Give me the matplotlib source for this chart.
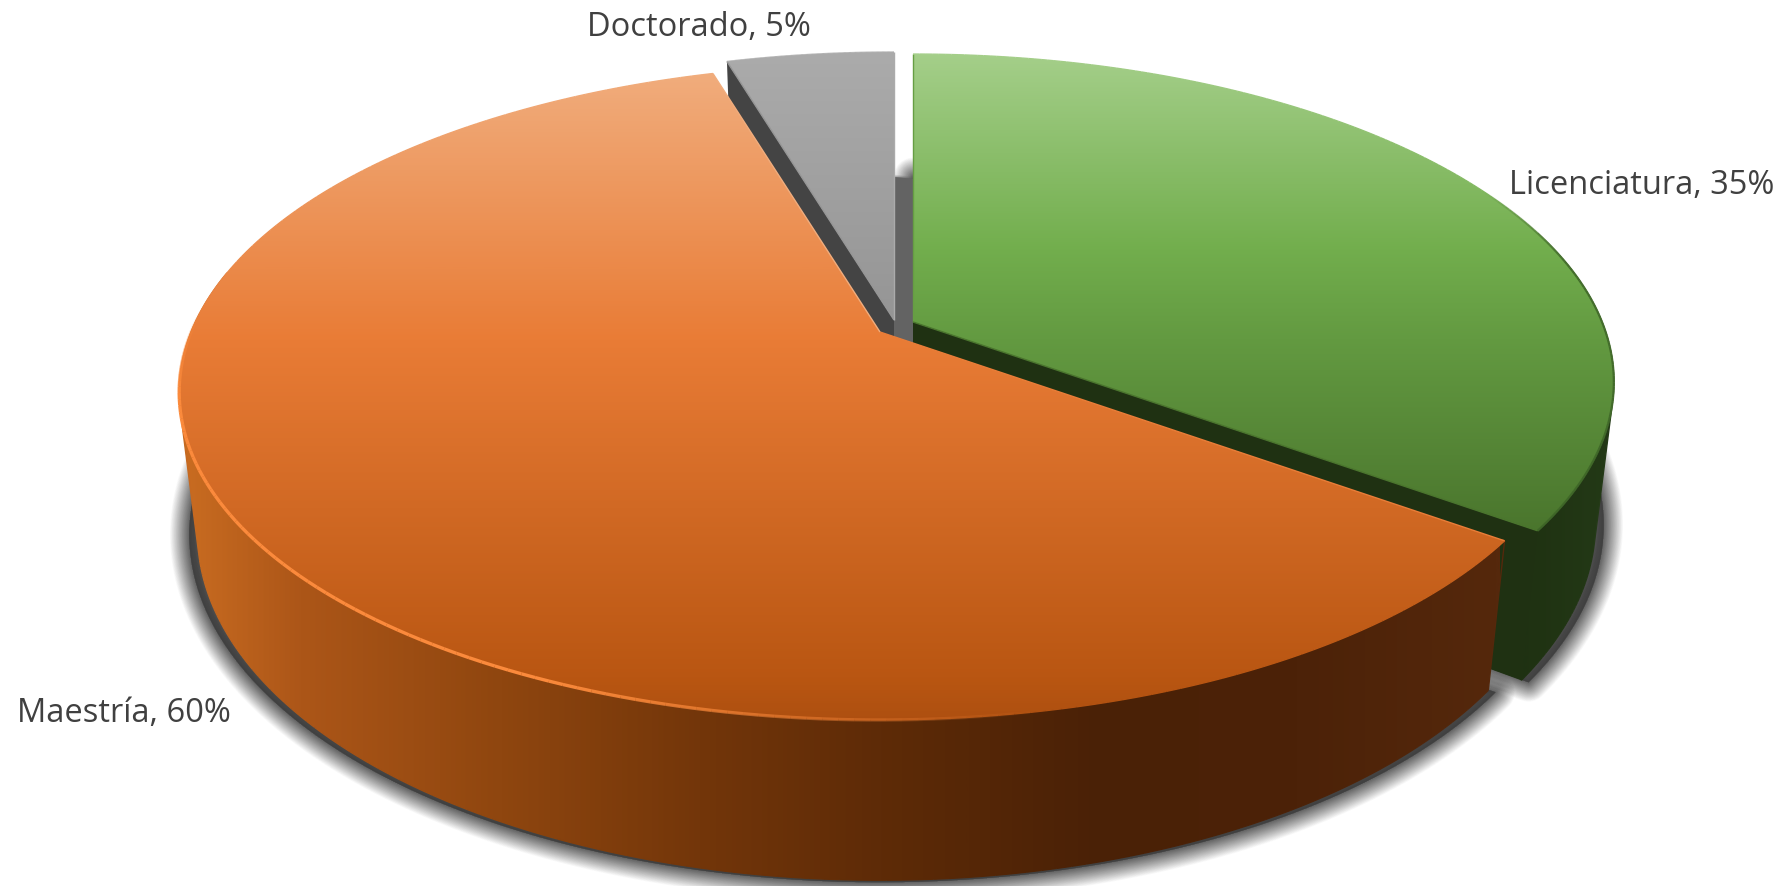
import numpy as np
import matplotlib
matplotlib.use("Agg")
import matplotlib.pyplot as plt
from matplotlib.patches import Polygon
from matplotlib.collections import LineCollection
from matplotlib.colors import LinearSegmentedColormap, to_rgb

# values, clockwise from 12 o'clock
categories = ["Licenciatura", "Maestría", "Doctorado"]
shares = [35.0, 60.4, 4.6]
shown_pct = ["35%", "60%", "5%"]

W, H = 1786, 887
K = 0.183              # perspective of the pie plane
A_TOP, B_TOP = 689, 317
A_BOT, B_BOT = 671, 336
DEPTH = 137
apex = [(913, 323), (880, 333), (894, 321)]

top_stops = [
    [(40, "#a8d18e"), (250, "#72ae4d"), (340, "#639a41"), (535, "#4a752d")],
    [(60, "#f1af80"), (340, "#e97c36"), (680, "#b95612"), (725, "#ad4f10")],
    [(40, "#acacac"), (325, "#959595")],
]
wall_stops = [
    [(915, "#1f3112"), (1530, "#1f3212"), (1620, "#243a17")],
    [(170, "#cc6e22"), (300, "#ac5618"), (500, "#8f460f"), (700, "#73360a"),
     (880, "#5e2b07"), (1100, "#4a2106"), (1300, "#4c2208"), (1500, "#55280c")],
]
label_pos = [(1509, 186), (17, 714), (587, 27)]


def project(theta, cx, cy, a, b):
    x_p, y_p = np.sin(theta), np.cos(theta)
    d = 1 + K * y_p
    return cx + a * x_p / d, cy - b * y_p / d


def make_cmap(stops):
    lo, hi = stops[0][0], stops[-1][0]
    pts = [((p - lo) / (hi - lo), c) for p, c in stops]
    return LinearSegmentedColormap.from_list("g", pts), lo, hi


def hull(points):
    # convex outline of the two rims, gives the straight side of the wall
    pts = sorted(set(map(tuple, points)))

    def half(seq):
        out = []
        for p in seq:
            while len(out) > 1 and ((out[-1][0] - out[-2][0]) * (p[1] - out[-2][1])
                                    - (out[-1][1] - out[-2][1]) * (p[0] - out[-2][0])) <= 0:
                out.pop()
            out.append(p)
        return out[:-1]

    return np.array(half(pts) + half(pts[::-1]))


def gradient_fill(ax, outline, stops, vertical, zorder):
    cmap, lo, hi = make_cmap(stops)
    ramp = np.linspace(0, 1, 512)
    if vertical:
        im = ax.imshow(ramp[:, None], cmap=cmap, vmin=0, vmax=1, aspect="auto",
                       extent=[0, W, hi, lo], zorder=zorder)
    else:
        im = ax.imshow(ramp[None, :], cmap=cmap, vmin=0, vmax=1, aspect="auto",
                       extent=[lo, hi, H, 0], zorder=zorder)
    clip = Polygon(outline, closed=True, transform=ax.transData)
    im.set_clip_path(clip)
    # antialiased edge in the same ramp
    pts = np.vstack([outline, outline[:1]])
    coord = pts[:, 1] if vertical else pts[:, 0]
    segs = np.stack([pts[:-1], pts[1:]], axis=1)
    vals = np.clip((coord[:-1] - lo) / (hi - lo), 0, 1)
    ax.add_collection(LineCollection(segs, colors=cmap(vals), linewidths=1.0, zorder=zorder + 0.1))


def soft_shadow(ax, outline, color="#3c3c3c", zorder=1, reach=20, layers=30, strength=0.8, power=1.0):
    # nested strokes, each one adds just enough alpha to follow a soft falloff
    done = 0.0
    for d in np.linspace(reach, 0.5, layers):
        want = strength * (1 - d / reach) ** power
        step = 1 - (1 - want) / (1 - done)
        done = want
        if step <= 0:
            continue
        ax.add_patch(Polygon(outline, closed=True, fc=color, ec=color, lw=2 * d * 0.72,
                             alpha=step, joinstyle="round", zorder=zorder))


fig = plt.figure(figsize=(W / 100, H / 100), dpi=100, facecolor="white")
ax = fig.add_axes([0, 0, 1, 1])

edges = np.radians(np.concatenate([[0], np.cumsum(shares)]) * 3.6)

faces = []
for i in range(3):
    th = np.linspace(edges[i], edges[i + 1], 200)
    cx, cy = apex[i]
    tx, ty = project(th, cx, cy, A_TOP, B_TOP)
    bx, by = project(th, cx, cy + DEPTH, A_BOT, B_BOT)
    faces.append((th, tx, ty, bx, by))

# shadows under the two big slices
for i in (0, 1):
    th, tx, ty, bx, by = faces[i]
    cx, cy = apex[i]
    sx, sy = project(th, cx, cy + DEPTH, A_BOT + 8, B_BOT)
    outline = np.column_stack([np.r_[cx, sx], np.r_[cy + DEPTH + 2, sy + 2]])
    soft_shadow(ax, outline)

# gap between grey and green slices
gx, gy = apex[2]
hx = apex[0][0] + 2
gap = np.array([[gx, 178], [hx, 180], [hx, gy + 30], [gx, gy + 30]])
soft_shadow(ax, gap, color="#5c5c5c", zorder=1.5, reach=3, layers=5, strength=0.6)
ax.add_patch(Polygon(gap, closed=True, fc="#636363", ec="none", zorder=1.6))

# green slice
th, tx, ty, bx, by = faces[0]
cx, cy = apex[0]
top = np.column_stack([np.r_[cx, tx], np.r_[cy, ty]])
low = np.cos(th) < 0.3
wall = hull(np.column_stack([np.r_[tx[low], bx[low]], np.r_[ty[low], by[low]]]))
gradient_fill(ax, wall, wall_stops[0], False, 2)
cut = np.array([[cx, cy], [tx[-1], ty[-1]], [bx[-1], by[-1]], [cx, cy + DEPTH]])
ax.add_patch(Polygon(cut, closed=True, fc="#1f3112", ec="none", zorder=2.5))
gradient_fill(ax, top, top_stops[0], True, 3)
# darker edge on the green rim, stronger towards the right side
pts = np.column_stack([tx, ty])
segs = np.stack([pts[:-1], pts[1:]], axis=1)
rim = np.tile(to_rgb("#3d6427") + (0.0,), (len(segs), 1))
rim[:, 3] = np.clip((0.45 - np.cos(th[:-1])) / 0.3, 0, 0.85)
ax.add_collection(LineCollection(segs, colors=rim, linewidths=1.6, zorder=3.5))

# grey slice
th, tx, ty, bx, by = faces[2]
cx, cy = apex[2]
top = np.column_stack([np.r_[cx, tx], np.r_[cy, ty]])
cut = np.array([[cx, cy], [tx[0], ty[0]], [bx[0], by[0]], [cx, cy + DEPTH]])
ax.add_patch(Polygon(cut, closed=True, fc="#444444", ec="none", zorder=4))
gradient_fill(ax, top, top_stops[2], True, 5)

# orange slice
th, tx, ty, bx, by = faces[1]
cx, cy = apex[1]
top = np.column_stack([np.r_[cx, tx], np.r_[cy, ty]])
front = np.cos(th) < 0.2
wall = hull(np.column_stack([np.r_[tx[front], bx[front]], np.r_[ty[front], by[front]]]))
gradient_fill(ax, wall, wall_stops[1], False, 6)
gradient_fill(ax, top, top_stops[1], True, 7)

# bright rim along the near edge, fading out to the right
pts = np.column_stack([tx, ty])
segs = np.stack([pts[:-1], pts[1:]], axis=1)
fade = np.clip((1050 - tx[:-1]) / 500, 0, 1)
rim = np.tile(to_rgb("#fb8a3c") + (0.0,), (len(segs), 1))
rim[:, 3] = fade * np.clip((0.05 - np.cos(th[:-1])) / 0.25, 0, 1)
ax.add_collection(LineCollection(segs, colors=rim, linewidths=2.4, zorder=7.5))

for name, pct, (lx, ly) in zip(categories, shown_pct, label_pos):
    ax.text(lx, ly, f"{name}, {pct}", fontsize=23.5, color="#404040", family="Open Sans",
            ha="left", va="center", zorder=10)

ax.set_xlim(0, W)
ax.set_ylim(H, 0)
ax.axis("off")
fig.savefig("out.png", dpi=100, facecolor="white")
